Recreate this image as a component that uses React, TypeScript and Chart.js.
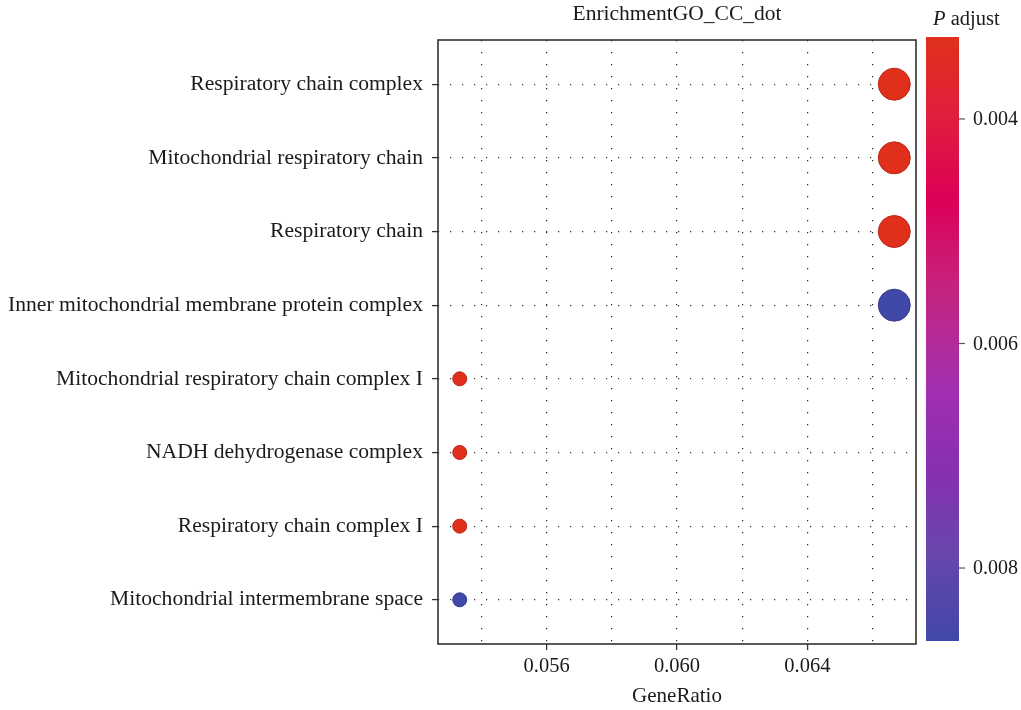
import React, { useEffect, useRef } from "react";
import { Chart, registerables } from "chart.js";

Chart.register(...registerables);

const categories = [
  "Respiratory chain complex",
  "Mitochondrial respiratory chain",
  "Respiratory chain",
  "Inner mitochondrial membrane protein complex",
  "Mitochondrial respiratory chain complex I",
  "NADH dehydrogenase complex",
  "Respiratory chain complex I",
  "Mitochondrial intermembrane space",
];
const geneRatio = [5 / 75, 5 / 75, 5 / 75, 5 / 75, 4 / 75, 4 / 75, 4 / 75, 4 / 75];
const geneCount = [5, 5, 5, 5, 4, 4, 4, 4];
const pAdjust = [0.00327, 0.00327, 0.00327, 0.00865, 0.00327, 0.00327, 0.00327, 0.00865];

const xGridTicks = [0.054, 0.056, 0.058, 0.06, 0.062, 0.064, 0.066];
const xLabelTicks = [0.056, 0.06, 0.064];
const colorbarTicks = [0.004, 0.006, 0.008];

const TITLE = "EnrichmentGO_CC_dot";
const X_TITLE = "GeneRatio";

const FONT = "'Liberation Serif', 'DejaVu Serif', serif";
const TEXT = "#1a1a1a";

// gradient stops: t=0 -> low p (red), t=1 -> high p (blue)
const gradStops: [number, number[]][] = [
  [0.0, [224, 48, 28]],
  [0.12, [224, 32, 58]],
  [0.27, [220, 0, 88]],
  [0.4, [200, 32, 122]],
  [0.5, [181, 42, 152]],
  [0.58, [163, 46, 176]],
  [0.72, [134, 48, 176]],
  [0.85, [106, 69, 172]],
  [1.0, [64, 72, 168]],
];

const pMin = Math.min(...pAdjust);
const pMax = Math.max(...pAdjust);

function colorAt(t: number, dark = 0): string {
  t = Math.max(0, Math.min(1, t));
  for (let i = 1; i < gradStops.length; i++) {
    const [t1, c1] = gradStops[i];
    const [t0, c0] = gradStops[i - 1];
    if (t <= t1) {
      const f = (t - t0) / (t1 - t0 || 1);
      const c = c0.map((v, k) => Math.round((v + (c1[k] - v) * f) * (1 - dark)));
      return `rgb(${c[0]},${c[1]},${c[2]})`;
    }
  }
  const c = gradStops[gradStops.length - 1][1];
  return `rgb(${c[0]},${c[1]},${c[2]})`;
}
const pToT = (p: number) => (p - pMin) / (pMax - pMin);

const cMin = Math.min(...geneCount);
const cMax = Math.max(...geneCount);
const radiusFor = (c: number) => 7 + ((c - cMin) / (cMax - cMin || 1)) * 9;

const rMin = Math.min(...geneRatio);
const rMax = Math.max(...geneRatio);
const xPad = (rMax - rMin) * 0.05;

export default function App() {
  const ref = useRef<HTMLCanvasElement>(null);
  useEffect(() => {
    document.body.style.margin = "0";
    const canvas = ref.current!;
    const decorPlugin = {
      id: "decor",
      afterDraw(chart: any) {
        const ctx = chart.ctx as CanvasRenderingContext2D;
        const a = chart.chartArea;
        ctx.save();
        // panel border
        ctx.strokeStyle = "#333";
        ctx.lineWidth = 1.6;
        ctx.strokeRect(a.left, a.top, a.right - a.left, a.bottom - a.top);
        // title
        ctx.fillStyle = TEXT;
        ctx.font = `21.5px ${FONT}`;
        ctx.textAlign = "center";
        ctx.textBaseline = "middle";
        ctx.fillText(TITLE, (a.left + a.right) / 2, 14);
        // colorbar
        const bx = 926, bw = 33, by0 = a.top - 3, by1 = a.bottom - 3;
        const g = ctx.createLinearGradient(0, by0, 0, by1);
        gradStops.forEach(([t]) => g.addColorStop(t, colorAt(t)));
        ctx.fillStyle = g;
        ctx.fillRect(bx, by0, bw, by1 - by0);
        ctx.strokeStyle = "#555";
        ctx.lineWidth = 1.2;
        ctx.font = `20px ${FONT}`;
        ctx.textAlign = "left";
        colorbarTicks.forEach((p) => {
          const y = by0 + pToT(p) * (by1 - by0);
          ctx.beginPath();
          ctx.moveTo(bx + bw, y);
          ctx.lineTo(bx + bw + 6, y);
          ctx.stroke();
          ctx.fillStyle = TEXT;
          ctx.fillText(p.toFixed(3), 973, y + 1);
        });
        // legend title
        ctx.fillStyle = TEXT;
        ctx.textBaseline = "middle";
        ctx.font = `italic 20.5px ${FONT}`;
        ctx.fillText("P", 933, 20);
        const w = ctx.measureText("P").width;
        ctx.font = `20.5px ${FONT}`;
        ctx.fillText(" adjust", 933 + w, 20);
        ctx.restore();
      },
    };
    const chart = new Chart(canvas, {
      type: "bubble",
      data: {
        datasets: [
          {
            data: categories.map((_, i) => ({
              x: geneRatio[i],
              y: i + 1,
              r: radiusFor(geneCount[i]),
            })),
            backgroundColor: pAdjust.map((p) => colorAt(pToT(p))),
            borderColor: pAdjust.map((p) => colorAt(pToT(p), 0.18)),
            borderWidth: 1,
          },
        ],
      },
      options: {
        responsive: false,
        animation: false,
        events: [],
        layout: { padding: { left: 0, top: 40, right: 105, bottom: 0 } },
        plugins: { legend: { display: false }, tooltip: { enabled: false }, title: { display: false } },
        scales: {
          x: {
            type: "linear",
            min: rMin - xPad,
            max: rMax + xPad,
            afterBuildTicks: (axis: any) => {
              axis.ticks = xGridTicks.map((v) => ({ value: v }));
            },
            afterFit: (s: any) => {
              s.height = 66;
            },
            ticks: {
              autoSkip: false,
              maxRotation: 0,
              padding: 4,
              color: TEXT,
              font: { family: FONT, size: 20.5 },
              callback: (v: any) =>
                xLabelTicks.some((t) => Math.abs(t - v) < 1e-9) ? Number(v).toFixed(3) : "",
            },
            grid: {
              color: "#222",
              lineWidth: 1.2,
              tickLength: 6,
              tickWidth: 1.3,
              tickColor: (c: any) =>
                c.tick && xLabelTicks.some((t) => Math.abs(t - c.tick.value) < 1e-9) ? "#333" : "rgba(0,0,0,0)",
            },
            border: { display: false, dash: [1.2, 10.8] },
            title: {
              display: true,
              text: X_TITLE,
              color: TEXT,
              font: { family: FONT, size: 21 },
              padding: { top: 0, bottom: 1 },
            },
          },
          y: {
            type: "linear",
            min: 0.4,
            max: categories.length + 0.6,
            reverse: true,
            afterBuildTicks: (axis: any) => {
              axis.ticks = categories.map((_, i) => ({ value: i + 1 }));
            },
            afterFit: (s: any) => {
              s.width = 438;
            },
            ticks: {
              autoSkip: false,
              padding: 9,
              color: TEXT,
              font: { family: FONT, size: 21.6 },
              callback: (v: any) => categories[Math.round(v) - 1] ?? "",
            },
            grid: {
              color: "#333",
              lineWidth: 1.2,
              tickLength: 6,
              tickWidth: 1.3,
              tickColor: "#333",
            },
            border: { display: false, dash: [1.2, 10.8] },
          },
        },
      } as any,
      plugins: [decorPlugin],
    });
    return () => chart.destroy();
  }, []);
  return <canvas ref={ref} width={1021} height={710} style={{ display: "block" }} />;
}
